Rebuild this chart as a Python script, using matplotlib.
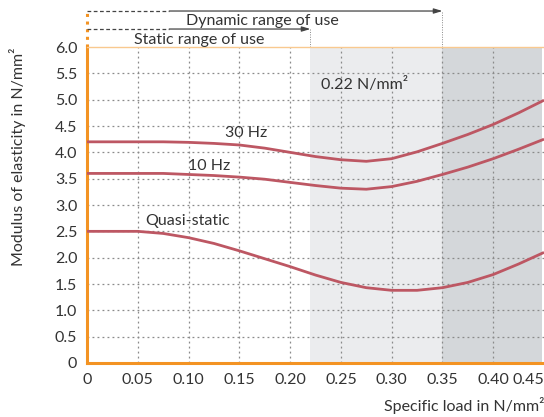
import numpy as np
import matplotlib.pyplot as plt
from matplotlib.transforms import blended_transform_factory

plt.rcParams['font.family'] = ['Lato', 'DejaVu Sans']

# specific load in N/mm^2
load = [0, 0.025, 0.05, 0.075, 0.10, 0.125, 0.15, 0.175, 0.20, 0.225,
        0.25, 0.275, 0.30, 0.325, 0.35, 0.375, 0.40, 0.425, 0.45]
e_30hz = [4.2, 4.2, 4.2, 4.2, 4.19, 4.17, 4.14, 4.08, 4.0, 3.92,
          3.86, 3.83, 3.88, 4.01, 4.17, 4.34, 4.53, 4.75, 4.99]
e_10hz = [3.6, 3.6, 3.6, 3.6, 3.58, 3.56, 3.53, 3.49, 3.43, 3.37,
          3.32, 3.30, 3.35, 3.45, 3.58, 3.72, 3.88, 4.06, 4.25]
e_quasi = [2.5, 2.5, 2.5, 2.46, 2.38, 2.27, 2.13, 1.98, 1.83, 1.67,
           1.53, 1.43, 1.38, 1.38, 1.43, 1.53, 1.68, 1.88, 2.1]

static_limit = 0.22
dynamic_limit = 0.35

xticks = [0, 0.05, 0.10, 0.15, 0.20, 0.25, 0.30, 0.35, 0.40, 0.45]
xtick_labels = ['0', '0.05', '0.10', '0.15', '0.20', '0.25', '0.30', '0.35', '0.40', '0.45']
yticks = [0, 0.5, 1.0, 1.5, 2.0, 2.5, 3.0, 3.5, 4.0, 4.5, 5.0, 5.5, 6.0]
ytick_labels = ['0', '0.5', '1.0', '1.5', '2.0', '2.5', '3.0', '3.5', '4.0', '4.5', '5.0', '5.5', '6.0']

orange = '#F39323'
curve_col = '#BD5763'
txt = '#333333'
fs = 11.5

fig = plt.figure(figsize=(5.44, 4.17), dpi=100)
ax = fig.add_axes([0.16, 0.1295, 0.84, 0.7577])

# shaded ranges
xmax = 0.448
ax.axvspan(static_limit, dynamic_limit, color='#EBECEE', zorder=0, lw=0)
ax.axvspan(dynamic_limit, xmax, color='#D4D7DA', zorder=0, lw=0)

# grid
for yv in yticks[1:-1]:
    ax.axhline(yv, color='#8A8A8A', lw=0.9, ls=(0, (1.5, 2.5)), zorder=1)
for xv in xticks[1:-1]:
    ax.axvline(xv, color='#8A8A8A', lw=0.9, ls=(0, (1.5, 2.5)), zorder=1)

# curves
for vals in (e_30hz, e_10hz, e_quasi):
    ax.plot(load, vals, color=curve_col, lw=2, zorder=3, solid_capstyle='butt')

ax.text(0.157, 4.36, '30 Hz', ha='center', va='center', fontsize=fs, color=txt, zorder=4)
ax.text(0.12, 3.75, '10 Hz', ha='center', va='center', fontsize=fs, color=txt, zorder=4)
ax.text(0.099, 2.69, 'Quasi-static', ha='center', va='center', fontsize=fs, color=txt, zorder=4)
ax.text(0.23, 5.29, '0.22 N/mm²', ha='left', va='center', fontsize=fs, color=txt, zorder=4)

ax.set_xlim(0, xmax)
ax.set_ylim(0, 6.0)
ax.set_xticks(xticks)
ax.set_xticklabels(xtick_labels)
ax.set_yticks(yticks)
ax.set_yticklabels(ytick_labels)
ax.get_xticklabels()[-1].set_ha('right')
ax.tick_params(axis='both', length=0, labelsize=fs, labelcolor=txt)
ax.tick_params(axis='x', pad=7)
ax.tick_params(axis='y', pad=7)

ax.spines['right'].set_visible(False)
ax.spines['left'].set_color(orange)
ax.spines['left'].set_linewidth(2.2)
ax.spines['bottom'].set_color(orange)
ax.spines['bottom'].set_linewidth(2.2)
ax.spines['top'].set_color('#F9C98F')
ax.spines['top'].set_linewidth(1)

# range-of-use arrows above the plot
tr = blended_transform_factory(ax.transData, ax.transAxes)
y_dyn, y_sta = 1.114, 1.057
ax.plot([0, 0], [1.0, y_dyn], transform=tr, color=orange, lw=2.2,
        ls=(0, (1, 1.5)), clip_on=False)
for y_line, limit in ((y_dyn, dynamic_limit), (y_sta, static_limit)):
    ax.plot([0, 0.081], [y_line, y_line], transform=tr, color='#444444', lw=0.9,
            ls=(0, (3, 2)), clip_on=False)
    ax.annotate('', xy=(limit, y_line), xytext=(0.081, y_line),
                xycoords=tr, textcoords=tr,
                arrowprops=dict(arrowstyle='-|>,head_length=0.5,head_width=0.15',
                                color='#444444', lw=0.9, shrinkA=0, shrinkB=0))
    ax.plot([limit, limit], [1.0, y_line], transform=tr, color='#888888', lw=0.7,
            ls=(0, (1, 1.5)), clip_on=False)

ax.text(0.1725, 1.082, 'Dynamic range of use', transform=tr, ha='center', va='center',
        fontsize=fs, color=txt)
ax.text(0.11, 1.022, 'Static range of use', transform=tr, ha='center', va='center',
        fontsize=fs, color=txt)

fig.text(18 / 544, 1 - 47 / 417, 'Modulus of elasticity in N/mm²', rotation=90,
         ha='center', va='top', fontsize=fs, color=txt)
fig.text(1.0, 1 - 405 / 417, 'Specific load in N/mm²', ha='right', va='center',
         fontsize=fs, color=txt)

fig.savefig('out.png', dpi=100)
